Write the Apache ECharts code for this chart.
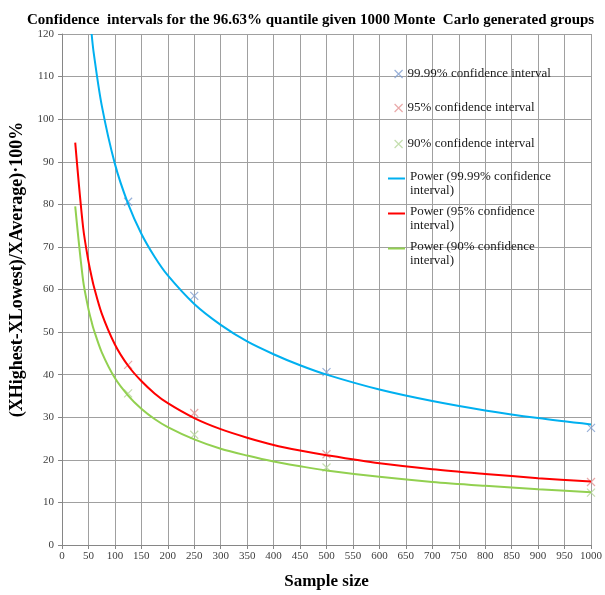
<!DOCTYPE html>
<html>
<head>
<meta charset="utf-8">
<script src="https://cdn.jsdelivr.net/npm/echarts@6/dist/echarts.min.js"></script>
<style>
  html, body { margin: 0; padding: 0; background: #ffffff; }
  #chart { width: 605px; height: 595px; }
</style>
</head>
<body>
<div id="chart"></div>
<script>
// Simulated confidence-interval widths at four sample sizes
const sampleSizes = [125, 250, 500, 1000];
const ci9999 = [80.6, 58.5, 40.6, 27.5];
const ci95 = [42.3, 31.0, 21.3, 14.8];
const ci90 = [35.6, 25.9, 18.2, 12.3];

// Power trend lines, sampled along the sample-size axis
const trendX = [25, 40, 50, 56, 60, 75, 100, 125, 150, 175, 200, 250, 300, 350, 400, 450, 500, 600, 700, 800, 900, 1000];
const trend9999 = [null, null, null, 120, 115.5, 103.3, 89.5, 80.1, 73.1, 67.7, 63.3, 56.6, 51.7, 47.8, 44.8, 42.2, 40.0, 36.5, 33.8, 31.6, 29.8, 28.3];
const trend95 = [94.5, 74.5, 66.6, 63.0, 60.8, 54.4, 47.1, 42.1, 38.5, 35.6, 33.3, 29.8, 27.2, 25.2, 23.5, 22.2, 21.1, 19.2, 17.8, 16.7, 15.7, 14.9];
const trend90 = [79.5, 62.0, 55.4, 52.4, 50.6, 45.3, 39.2, 35.1, 32.0, 29.6, 27.7, 24.8, 22.6, 21.0, 19.6, 18.5, 17.5, 16.0, 14.8, 13.9, 13.1, 12.4];

const names = {
  s1: '99.99% confidence interval',
  s2: '95% confidence interval',
  s3: '90% confidence interval',
  t1: 'Power (99.99% confidence interval)',
  t2: 'Power (95% confidence interval)',
  t3: 'Power (90% confidence interval)'
};

const SERIF = '"Liberation Serif", "DejaVu Serif", serif';
const crossPath = 'path://M0,0L10,10M10,0L0,10';
// Short bar near the top of a two-line legend entry (tiny corner dots fix the icon box)
const lineIconPath = 'path://M0,7.6h17v1.8h-17zM0,0h0.01v0.01h-0.01zM0,28h0.01v0.01h-0.01z';

function pairs(xs, ys) {
  return xs.map((x, i) => [x, ys[i]]);
}

function crossSeries(name, ys, color) {
  return {
    name: name,
    type: 'scatter',
    data: pairs(sampleSizes, ys),
    symbol: crossPath,
    symbolSize: 8,
    z: 2,
    itemStyle: { color: 'transparent', borderColor: color, borderWidth: 1.2 }
  };
}

function trendSeries(name, ys, color) {
  return {
    name: name,
    type: 'line',
    data: pairs(trendX, ys),
    symbol: 'none',
    showSymbol: false,
    smooth: 0.3,
    z: 3,
    lineStyle: { color: color, width: 2 },
    itemStyle: { color: color }
  };
}

const legendText = { fontFamily: SERIF, fontSize: 13, color: '#1a1a1a', lineHeight: 14 };

function crossLegend(name, color, top) {
  return {
    left: 394, top: top, orient: 'vertical', padding: 0,
    itemWidth: 8, itemHeight: 8,
    data: [{ name: name, icon: crossPath, itemStyle: { color: 'transparent', borderColor: color, borderWidth: 1.2 } }],
    textStyle: legendText,
    selectedMode: false
  };
}

function lineLegend(name, color, top) {
  return {
    left: 388, top: top, orient: 'vertical', padding: 0,
    itemWidth: 17, itemHeight: 28,
    data: [{ name: name, icon: lineIconPath, itemStyle: { color: color, borderWidth: 0 } }],
    formatter: n => n.replace(' interval)', '\ninterval)'),
    textStyle: legendText,
    selectedMode: false
  };
}

const chart = echarts.init(document.getElementById('chart'), null, { renderer: 'canvas' });

chart.setOption({
  backgroundColor: '#ffffff',
  animation: false,
  title: {
    text: 'Confidence  intervals for the 96.63% quantile given 1000 Monte  Carlo generated groups',
    left: 22,
    top: 8,
    textStyle: { fontFamily: SERIF, fontSize: 15, fontWeight: 'bold', color: '#000000' }
  },
  legend: [
    crossLegend(names.s1, '#7f9ed0', 67),
    crossLegend(names.s2, '#e39494', 101),
    crossLegend(names.s3, '#b5d69a', 137),
    lineLegend(names.t1, '#00b0f0', 170),
    lineLegend(names.t2, '#ff0000', 205),
    lineLegend(names.t3, '#92d050', 240)
  ],
  grid: { left: 62, right: 9.5, top: 34, bottom: 43, containLabel: false },
  xAxis: {
    type: 'value',
    min: 0, max: 1000, interval: 50,
    name: 'Sample size',
    nameLocation: 'middle',
    nameGap: 28,
    nameTextStyle: { fontFamily: SERIF, fontSize: 17, fontWeight: 'bold', color: '#000000' },
    axisLine: { show: true, lineStyle: { color: '#868686', width: 1 } },
    axisTick: { show: true, length: 4, lineStyle: { color: '#868686' } },
    axisLabel: { fontFamily: SERIF, fontSize: 11, color: '#404040', margin: 6, formatter: v => String(v) },
    splitLine: { show: true, lineStyle: { color: '#a0a0a0', width: 1 } }
  },
  yAxis: {
    type: 'value',
    min: 0, max: 120, interval: 10,
    name: '(XHighest-XLowest)/XAverage)·100%',
    nameLocation: 'middle',
    nameGap: 27,
    nameTextStyle: { fontFamily: SERIF, fontSize: 18, fontWeight: 'bold', color: '#000000', padding: [0, 0, 0, 40] },
    axisLine: { show: true, lineStyle: { color: '#868686', width: 1 } },
    axisTick: { show: true, length: 4, lineStyle: { color: '#868686' } },
    axisLabel: { fontFamily: SERIF, fontSize: 11, color: '#404040', margin: 8, formatter: v => String(v) },
    splitLine: { show: true, lineStyle: { color: '#a0a0a0', width: 1 } }
  },
  series: [
    crossSeries(names.s1, ci9999, '#7f9ed0'),
    crossSeries(names.s2, ci95, '#e39494'),
    crossSeries(names.s3, ci90, '#b5d69a'),
    trendSeries(names.t1, trend9999, '#00b0f0'),
    trendSeries(names.t2, trend95, '#ff0000'),
    trendSeries(names.t3, trend90, '#92d050')
  ]
});
</script>
</body>
</html>
